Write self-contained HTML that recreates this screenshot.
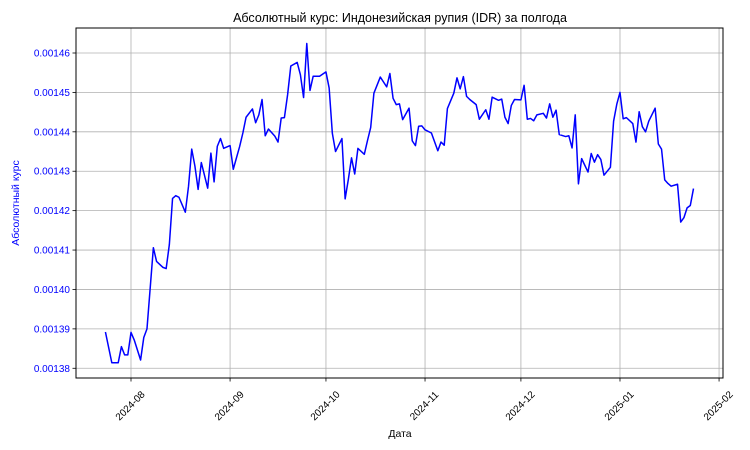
<!DOCTYPE html>
<html><head><meta charset="utf-8"><style>
html,body{margin:0;padding:0;background:#fff;}
svg{display:block;font-family:"Liberation Sans","DejaVu Sans",sans-serif;}
</style></head><body>
<svg id="chart" width="750" height="450" viewBox="0 0 750 450">
<rect x="0" y="0" width="750" height="450" fill="#fff"/>
<text x="400" y="22" text-anchor="middle" font-size="12.5" fill="#000">Абсолютный курс: Индонезийская рупия (IDR) за полгода</text>
<text x="400" y="437" text-anchor="middle" font-size="10.5" fill="#000">Дата</text>
<text transform="translate(19,203) rotate(-90)" text-anchor="middle" font-size="10.5" fill="#0000ff">Абсолютный курс</text>
<g id="grid"></g>
<g id="yticks"></g>
<g id="xticks"></g>
<g id="series"></g>
<rect x="76" y="28" width="647" height="350" fill="none" stroke="#000" stroke-width="1"/>
</svg>
<script>
// days since 2024-08-01
const dayOffsets = [-8,-6,-4,-3,-2,-1,0,1,3,4,5,7,8,10,11,12,13,14,15,17,18,19,20,21,22,24,25,26,27,28,29,31,32,34,35,36,38,39,40,41,42,43,45,46,47,48,49,50,52,53,54,55,56,57,59,61,62,63,64,66,67,68,69,70,71,73,74,75,76,78,80,81,82,83,84,85,87,88,89,90,91,92,94,96,97,98,99,101,102,103,104,105,106,108,109,111,112,113,115,116,117,118,119,120,122,123,124,125,126,127,129,130,131,132,133,134,136,137,138,139,140,141,143,144,145,146,147,148,150,151,152,153,154,155,157,158,159,160,161,162,164,165,166,167,168,169,171,172,173,174,175,176];
const rateValues = [0.0013892,0.0013814,0.0013814,0.0013855,0.0013834,0.0013834,0.0013891,0.0013872,0.0013821,0.0013878,0.0013900,0.0014106,0.0014071,0.0014056,0.0014053,0.0014114,0.0014231,0.0014238,0.0014234,0.0014196,0.0014262,0.0014356,0.0014313,0.0014254,0.0014322,0.0014257,0.0014346,0.0014273,0.0014363,0.0014383,0.0014358,0.0014365,0.0014305,0.0014363,0.0014397,0.0014437,0.0014458,0.0014423,0.0014443,0.0014482,0.0014390,0.0014407,0.0014389,0.0014374,0.0014435,0.0014436,0.0014494,0.0014567,0.0014576,0.0014545,0.0014487,0.0014624,0.0014505,0.0014541,0.0014541,0.0014552,0.0014511,0.0014396,0.0014350,0.0014383,0.0014230,0.0014279,0.0014334,0.0014293,0.0014358,0.0014343,0.0014378,0.0014411,0.0014498,0.0014539,0.0014514,0.0014548,0.0014485,0.0014469,0.0014471,0.0014431,0.0014460,0.0014377,0.0014365,0.0014414,0.0014415,0.0014405,0.0014397,0.0014352,0.0014374,0.0014366,0.0014459,0.0014498,0.0014537,0.0014509,0.0014540,0.0014490,0.0014482,0.0014469,0.0014432,0.0014456,0.0014432,0.0014488,0.0014480,0.0014483,0.0014437,0.0014421,0.0014467,0.0014482,0.0014481,0.0014518,0.0014432,0.0014434,0.0014428,0.0014443,0.0014447,0.0014435,0.0014471,0.0014437,0.0014455,0.0014393,0.0014388,0.0014390,0.0014359,0.0014443,0.0014268,0.0014332,0.0014298,0.0014345,0.0014323,0.0014342,0.0014330,0.0014290,0.0014310,0.0014427,0.0014470,0.0014500,0.0014433,0.0014436,0.0014421,0.0014374,0.0014451,0.0014413,0.0014400,0.0014427,0.0014460,0.0014369,0.0014356,0.0014278,0.0014269,0.0014262,0.0014267,0.0014171,0.0014182,0.0014207,0.0014213,0.0014256];
const yTickValues = [0.00138,0.00139,0.00140,0.00141,0.00142,0.00143,0.00144,0.00145,0.00146];
const xTickLabels = ["2024-08","2024-09","2024-10","2024-11","2024-12","2025-01","2025-02"];
const xTickDays = [0,31,61,92,122,153,184];

const NS = "http://www.w3.org/2000/svg";
const L = 76, R = 723, T = 28, B = 378;
function xScale(d){ return 131 + d * 3.196; }
function yScale(v){ return 53 + (0.00146 - v) / 0.00001 * 39.41; }
function mk(tag, attrs, parent){
  const e = document.createElementNS(NS, tag);
  for (const k in attrs) e.setAttribute(k, attrs[k]);
  parent.appendChild(e);
  return e;
}
const grid = document.getElementById('grid');
const yt = document.getElementById('yticks');
const xt = document.getElementById('xticks');
const series = document.getElementById('series');

yTickValues.forEach(v => {
  const y = yScale(v);
  const g = mk('line', {x1:L, x2:R, y1:y, y2:y, stroke:'#b0b0b0', 'stroke-width':0.8}, grid);
  
  
  const tk = mk('line', {x1:L-3.5, x2:L, y1:y, y2:y, stroke:'#000', 'stroke-width':0.8}, yt);
  
  
  const t = mk('text', {x:L-6, y:y+3.5, 'text-anchor':'end', 'font-size':10, fill:'#0000ff'}, yt);
  t.textContent = v.toFixed(5);
  
  
});

xTickDays.forEach((d, i) => {
  const x = xScale(d);
  const g = mk('line', {x1:x, x2:x, y1:T, y2:B, stroke:'#b0b0b0', 'stroke-width':0.8}, grid);
  
  
  const tk = mk('line', {x1:x, x2:x, y1:B, y2:B+3.5, stroke:'#000', 'stroke-width':0.8}, xt);
  
  
  const t = mk('text', {x:0, y:0, 'text-anchor':'middle', 'font-size':10, fill:'#000',
    transform:'translate(' + (x + 1.5) + ',' + (B + 30) + ') rotate(-45)'}, xt);
  t.textContent = xTickLabels[i];
  
  
});

const pts = dayOffsets.map((d, i) => xScale(d).toFixed(2) + ',' + yScale(rateValues[i]).toFixed(2)).join(' ');
const line = mk('polyline', {points:pts, fill:'none', stroke:'#0000ff', 'stroke-width':1.5, 'stroke-linejoin':'round'}, series);


</script>
</body></html>
